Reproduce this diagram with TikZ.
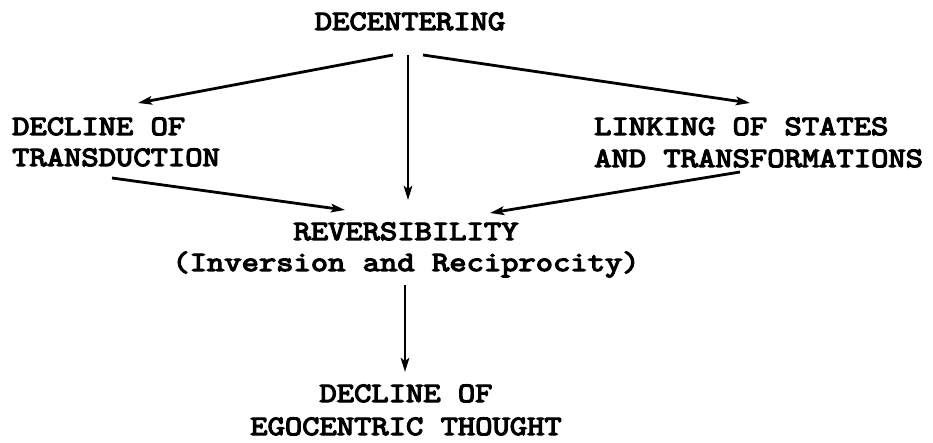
\documentclass[tikz,border=0pt]{standalone}
\usepackage{fontspec}
\usetikzlibrary{arrows.meta,calc}
\newfontfamily\twfont{Latin Modern Mono}[FakeStretch=1.2,FakeBold=4.5]
\begin{document}
\begin{tikzpicture}[x=1pt,y=-1pt,
  lbl/.style={inner sep=0pt,font=\twfont\fontsize{28}{31}\selectfont},
  conn/.style={line width=2.8pt,-{Stealth[length=14pt,width=8.5pt,inset=3pt]}}]
\useasboundingbox[fill=white] (0,0) rectangle (933,443);
% nodes
\node[lbl,anchor=base] (dec) at (410,30) {DECENTERING};
\node[lbl,anchor=base west] (tA) at (12,135) {DECLINE OF};
\node[lbl,anchor=base west] (tB) at (12,166) {TRANSDUCTION};
\node[lbl,anchor=base west] (lA) at (594,135) {LINKING OF STATES};
\node[lbl,anchor=base west] (lB) at (594,167) {AND TRANSFORMATIONS};
\node[lbl,anchor=base] (rev) at (406,240) {REVERSIBILITY};
\node[lbl,anchor=base] (inv) at (406,271) {(Inversion and Reciprocity)};
\node[lbl,anchor=base] (egA) at (406,402) {DECLINE OF};
\node[lbl,anchor=base] (egB) at (406,435) {EGOCENTRIC THOUGHT};
% connectors
\draw[conn] ($(dec.base)+(-17,25)$) -- ($(tA.base west)+(126,-32)$);
\draw[conn] ($(dec.base)+(-2,25)$) -- ($(rev.base)+(2,-40)$);
\draw[conn] ($(dec.base)+(13,25)$) -- ($(lA.base west)+(156,-32)$);
\draw[conn] ($(tB.base west)+(100,12)$) -- ($(rev.base)+(-61,-30)$);
\draw[conn] ($(lB.base west)+(146,5)$) -- ($(rev.base)+(84,-27)$);
\draw[conn] ($(inv.base)+(-1,14)$) -- ($(egA.base)+(-1,-30)$);
\end{tikzpicture}
\end{document}
